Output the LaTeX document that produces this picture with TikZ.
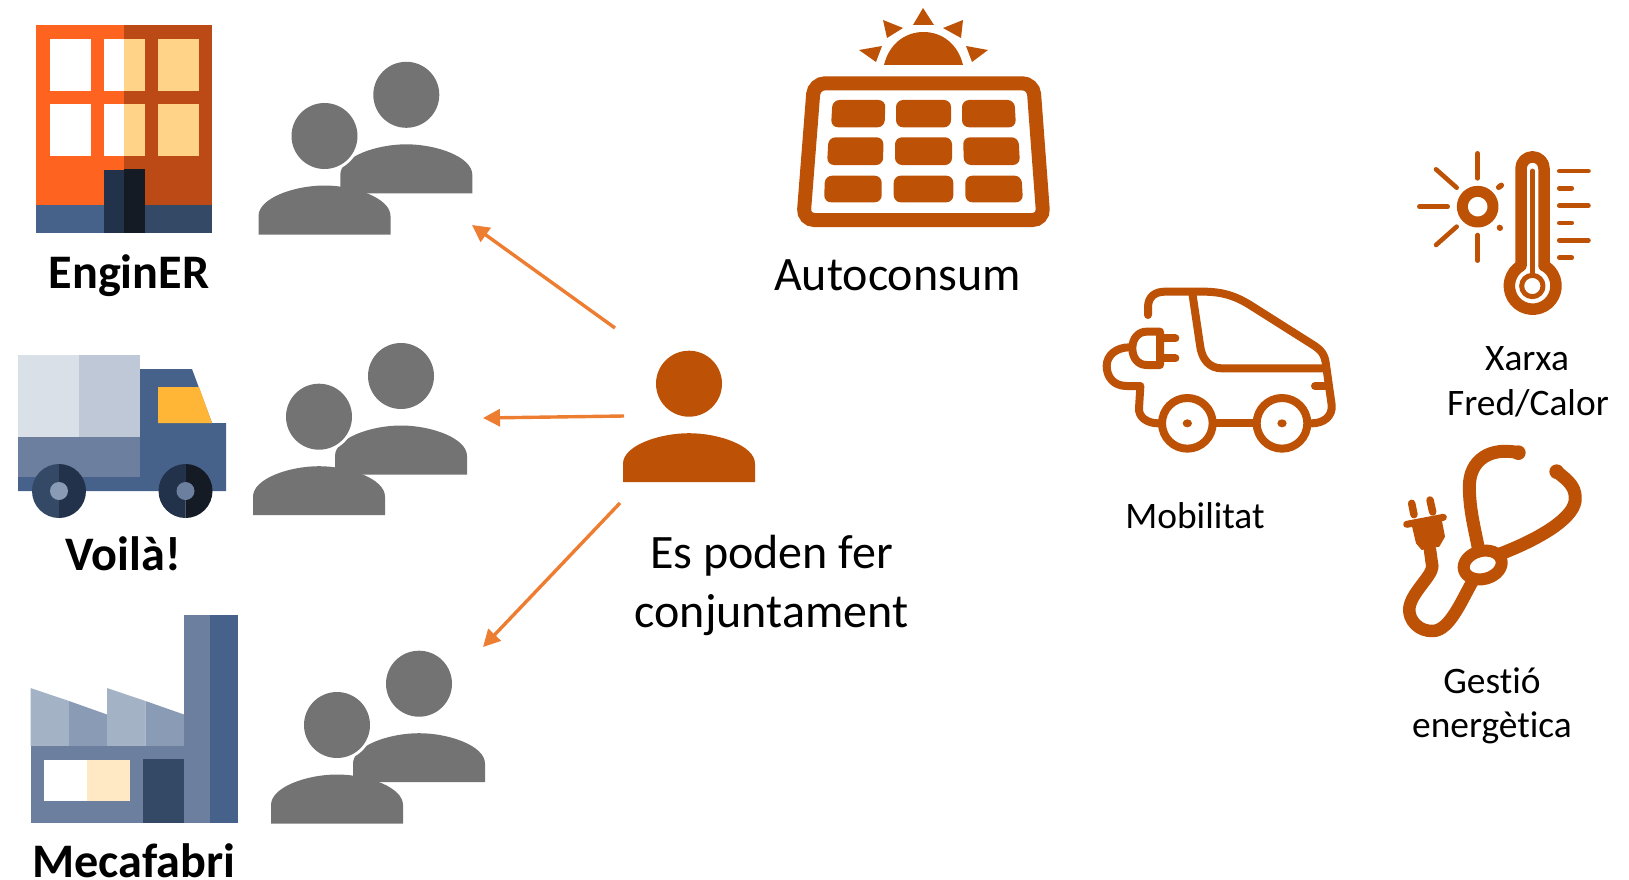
\documentclass[tikz,border=0pt]{standalone}
\usepackage{fontspec}
\setmainfont{Carlito}[Ligatures=NoCommon]
\usetikzlibrary{arrows.meta}
\definecolor{rust}{HTML}{BD5206}
\definecolor{peepgray}{HTML}{737373}
\definecolor{arrowor}{HTML}{ED7D31}
\definecolor{bldorange}{HTML}{FF6320}
\definecolor{bldrust}{HTML}{BB4A17}
\definecolor{winyel}{HTML}{FFD388}
\definecolor{navyA}{HTML}{47628A}
\definecolor{navyB}{HTML}{344966}
\definecolor{navyC}{HTML}{22324A}
\definecolor{navyD}{HTML}{141B25}
\definecolor{steelA}{HTML}{6C7F9F}
\definecolor{steelB}{HTML}{8A9BB5}
\definecolor{steelC}{HTML}{A3B2C5}
\definecolor{cargoA}{HTML}{D9E0E8}
\definecolor{cargoB}{HTML}{BEC8D6}
\definecolor{amber}{HTML}{FFB637}
\definecolor{cream}{HTML}{FFE9C4}
\tikzset{
  x=1pt,y=-1pt,
  flow/.style={draw=arrowor,line width=3.4pt,-{Triangle[length=17pt,width=17pt]},shorten >=0pt},
  boldlabel/.style={font=\fontsize{48.2}{52}\selectfont\bfseries,anchor=base,inner sep=0pt},
  biglabel/.style={font=\fontsize{48}{57}\selectfont,anchor=base,inner sep=0pt,align=center},
  smalllabel/.style={font=\fontsize{37.4}{44}\selectfont,anchor=base,inner sep=0pt,align=center},
  icon/.style={draw=rust,line cap=round,line join=round},
}
\newcommand{\peep}[3]{%
  \fill[#3] (#1,#2) circle[radius=33];
  \begin{scope}[shift={(#1,#2)}]
    \fill[#3] (-66,98.5) -- (-66,80) .. controls (-66,62) and (-30,49.5) .. (0,49.5)
      .. controls (30,49.5) and (66,62) .. (66,80) -- (66,98.5) -- cycle;
  \end{scope}}
\newcommand{\peeppair}[4]{%
  \peep{#1}{#2}{peepgray}
  \fill[white] (#3,#4) circle[radius=36];
  \peep{#3}{#4}{peepgray}}
\newcommand{\cellbox}[6]{\fill[rust,rounded corners=7pt] (#1,#5) -- (#2,#5) -- (#4,#6) -- (#3,#6) -- cycle;}
\begin{document}
\begin{tikzpicture}
\useasboundingbox (0,0) rectangle (1629,880);

% building
\fill[bldorange] (36,25) rectangle (124,205);
\fill[bldrust] (124,25) rectangle (212,205);
\fill[navyA] (36,205) rectangle (124,233);
\fill[navyB] (124,205) rectangle (212,233);
\foreach \yy in {39,104}{
  \fill[white] (50,\yy) rectangle ++(41,52);
  \fill[white] (104,\yy) rectangle ++(20,52);
  \fill[winyel] (124,\yy) rectangle ++(21,52);
  \fill[winyel] (158,\yy) rectangle ++(41,52);
}
\fill[navyC] (104,170) rectangle (124,233);
\fill[navyD] (124,169) rectangle (145,233);

% truck
\fill[navyA] (140,369) -- (192,369) -- (212,423) -- (226,423) -- (226,491) -- (18,491) -- (18,470) -- (140,470) -- cycle;
\fill[amber] (158,387) -- (199,387) -- (212,423) -- (158,423) -- cycle;
\fill[steelA] (18,437) rectangle (140,477);
\fill[cargoA] (18,355) rectangle (79,437);
\fill[cargoB] (79,355) rectangle (140,437);
\fill[navyB] (59,464) arc[start angle=-90,end angle=-270,radius=27] -- cycle;
\fill[navyC] (59,464) arc[start angle=-90,end angle=90,radius=27] -- cycle;
\fill[steelB] (59,491) circle[radius=9];
\fill[navyC] (185.5,464) arc[start angle=-90,end angle=-270,radius=27] -- cycle;
\fill[navyD] (185.5,464) arc[start angle=-90,end angle=90,radius=27] -- cycle;
\fill[steelA] (185.5,491) circle[radius=9];

% factory
\fill[steelC] (30.5,688) -- (69,701) -- (69,746) -- (30.5,746) -- cycle;
\fill[steelB] (69,701) -- (107,714.5) -- (107,746) -- (69,746) -- cycle;
\fill[steelC] (107,688) -- (145.5,701) -- (145.5,746) -- (107,746) -- cycle;
\fill[steelB] (145.5,701) -- (184,714.5) -- (184,746) -- (145.5,746) -- cycle;
\fill[steelA] (30.5,746) rectangle (184,823);
\fill[steelA] (184,615) rectangle (210,823);
\fill[navyA] (210,615) rectangle (238,823);
\fill[white] (44,760) rectangle (87,800.5);
\fill[cream] (87,760) rectangle (130,801);
\fill[navyB] (143,759) rectangle (184,823);

% people
\peeppair{406.3}{94.8}{324.5}{136}
\peeppair{401}{376}{319}{416.7}
\peeppair{419}{683.7}{337}{725}
\peep{689}{383.7}{rust}

% arrows
\coordinate (src1) at (615,328);
\coordinate (dst1) at (472,225);
\coordinate (src2) at (624,416);
\coordinate (dst2) at (483,418);
\coordinate (src3) at (620,503);
\coordinate (dst3) at (483,647);
\draw[flow] (src1) -- (dst1);
\draw[flow] (src2) -- (dst2);
\draw[flow] (src3) -- (dst3);

% solar panel
\fill[rust] (884,65) .. controls (889,44) and (905,32) .. (923.5,32) .. controls (942,32) and (958,44) .. (963,65) -- cycle;
\fill[rust] (923,8) -- (913,25) -- (934,25) -- cycle;
\fill[rust] (883,20) -- (903,28) -- (887,38) -- cycle;
\fill[rust] (963,20) -- (943,28) -- (961,38) -- cycle;
\fill[rust] (859,50) -- (882,46) -- (876,62) -- cycle;
\fill[rust] (988,50) -- (966,46) -- (972,62) -- cycle;
\draw[rust,line width=14pt,rounded corners=11pt] (814,83.3) -- (1033.3,83.3) -- (1043.5,220) -- (803.3,220) -- cycle;
\cellbox{832.5}{885.5}{831}{884.5}{100}{127.3}
\cellbox{896}{951}{896}{951}{100}{127.3}
\cellbox{962}{1014.5}{962}{1016}{100}{127.3}
\cellbox{828.5}{883.5}{827}{883}{137.3}{165}
\cellbox{895}{952}{895}{952}{137.3}{165}
\cellbox{963}{1018.5}{964}{1020}{137.3}{165}
\cellbox{825}{881.7}{824}{881.7}{175.7}{202.3}
\cellbox{893.7}{953.3}{893.7}{953.3}{175.7}{202.3}
\cellbox{965.3}{1021.5}{965.3}{1023}{175.7}{202.3}

% car
\begin{scope}[shift={(1090,270)},x=0.33333pt,y=-0.33333pt]
  \begin{scope}[icon,line width=8pt]
    \draw (174,135) -- (174,112) .. controls (174,80) and (195,65) .. (225,65) -- (340,65)
      .. controls (400,65) and (440,80) .. (480,105) -- (665,222)
      .. controls (695,240) and (705,255) .. (708,285) -- (725,405)
      .. controls (728,440) and (700,460) .. (665,460);
    \draw (292,460) circle[radius=76];
    \draw (576,460) circle[radius=76];
    \draw (370,460) -- (490,460);
    \draw (205,460) .. controls (170,460) and (145,440) .. (147,415) -- (151,348) -- (110,348)
      .. controls (70,348) and (50,320) .. (50,288) .. controls (50,255) and (80,232) .. (118,232);
    \draw (210,185) -- (170,185) .. controls (145,185) and (127,205) .. (127,235)
      .. controls (127,265) and (145,285) .. (170,285) -- (210,285) -- cycle;
    \draw (215,205) -- (256,205);
    \draw (215,265) -- (256,265);
    \draw (307,70) -- (330,225) .. controls (335,270) and (360,295) .. (395,295) -- (705,295);
    \draw (675,348) -- (715,348);
  \end{scope}
  \fill[rust] (292,460) ellipse[x radius=14,y radius=12];
  \fill[rust] (576,460) ellipse[x radius=14,y radius=12];
\end{scope}

% thermometer
\begin{scope}[shift={(1400,140)},x=0.33333pt,y=-0.33333pt]
  \begin{scope}[icon]
    \draw[line width=11pt] (233,200) circle[radius=46];
    \draw[line width=4.6pt] (233,40) -- (233,115);
    \draw[line width=4.6pt] (233,285) -- (233,362);
    \draw[line width=4.6pt] (58,200) -- (143,200);
    \draw[line width=4.6pt] (108,88) -- (170,143);
    \draw[line width=4.6pt] (108,315) -- (170,260);
    \draw[line width=5.5pt] (296,142) -- (304,136);
    \draw[line width=6pt] (299,263) -- (300,264);
    \draw[line width=11.5pt] (432,377) -- (432,85) arc[start angle=0,end angle=-180,radius=34.5] -- (363,377)
      arc[start angle=240,end angle=-60,radius=70];
    \draw[line width=5pt] (397,438) circle[radius=32];
    \draw[line width=4.8pt] (397,93) -- (397,405);
    \foreach \yy in {93,197,301}{\draw[line width=4.8pt] (478,\yy) -- (565,\yy);}
    \foreach \yy in {145,249,353}{\draw[line width=4.8pt] (478,\yy) -- (515,\yy);}
  \end{scope}
\end{scope}

% stethoscope
\begin{scope}[shift={(1390,430)},x=0.33333pt,y=-0.33333pt]
  \begin{scope}[icon]
    \draw[line width=13pt] (385,68) .. controls (300,50) and (238,90) .. (238,170)
      .. controls (238,240) and (255,300) .. (265,355);
    \draw[line width=13pt] (500,125) .. controls (540,155) and (560,175) .. (555,215)
      .. controls (545,270) and (440,330) .. (330,372);
    \draw[line width=12pt,rotate around={15:(278,405)}] (278,405) ellipse[x radius=58,y radius=42];
    \draw[line width=12.5pt] (250,450) .. controls (215,510) and (180,600) .. (130,603)
      .. controls (85,605) and (55,570) .. (58,535) .. controls (62,490) and (125,440) .. (127,410) -- (120,360);
    \draw[line width=7pt] (50,283) -- (160,262);
    \draw[line width=7.5pt] (65,220) -- (72,254);
    \draw[line width=7.5pt] (120,210) -- (128,246);
  \end{scope}
  \fill[rust] (65,285) -- (155,268) -- (165,320) -- (148,350) -- (95,360) -- (78,340) -- cycle;
  \fill[rust] (385,68) circle[radius=22];
  \fill[rust] (500,125) circle[radius=22];
\end{scope}

% labels
\node[boldlabel] (lbl1) at (129,288) {EnginER};
\node[boldlabel] (lbl2) at (123,570) {Voilà!};
\node[boldlabel] (lbl3) at (134,877) {Mecafabri};
\node[biglabel] (lbl4) at (897.5,290) {Autoconsum};
\node[biglabel] (lbl5) at (771.5,568.5) {Es poden fer};
\node[biglabel] (lbl6) at (771.5,627.5) {conjuntament};
\node[smalllabel] (lbl7) at (1195,528.5) {Mobilitat};
\node[smalllabel] (lbl8) at (1527,370) {Xarxa};
\node[smalllabel] (lbl9) at (1528,415) {Fred/Calor};
\node[smalllabel] (lbl10) at (1492,693) {Gestió};
\node[smalllabel] (lbl11) at (1492,737) {energètica};
\end{tikzpicture}
\end{document}
